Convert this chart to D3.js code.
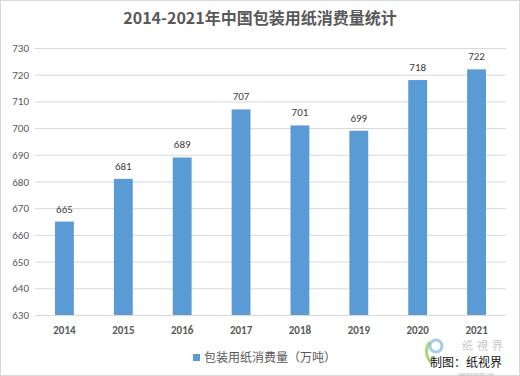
<!DOCTYPE html>
<html><head><meta charset="utf-8">
<script src="https://cdn.jsdelivr.net/npm/d3@7/dist/d3.min.js"></script>
<style>body{margin:0;background:#fff}svg{display:block}</style>
</head><body>
<script>
const years = ["2014","2015","2016","2017","2018","2019","2020","2021"];
const values = [665,681,689,707,701,699,718,722];
const yTicks = [630,640,650,660,670,680,690,700,710,720,730];
const title = "2014-2021年中国包装用纸消费量统计";
const legendLabel = "包装用纸消费量（万吨）";

const W=520,H=376;
const svg=d3.select("body").append("svg").attr("width",W).attr("height",H);
svg.append("rect").attr("x",0.5).attr("y",0.5).attr("width",W-1).attr("height",H-1)
  .attr("fill","#fff").attr("stroke","#d9d9d9");
const font="'Microsoft YaHei','Noto Sans CJK SC',Calibri,'Liberation Sans',sans-serif";
const x=d3.scaleBand().domain(years).range([35,506]).paddingInner(0.68).paddingOuter(0.34);
const y=d3.scaleLinear().domain([630,730]).range([315,48]);

svg.append("g").selectAll("line").data(yTicks).join("line")
  .attr("x1",35).attr("x2",506).attr("y1",d=>y(d)+0.5).attr("y2",d=>y(d)+0.5)
  .attr("stroke","#d9d9d9").attr("stroke-width",1);
svg.append("g").selectAll("text").data(yTicks).join("text")
  .attr("x",29).attr("y",d=>y(d)+4).attr("text-anchor","end")
  .attr("font-family","Calibri,'Liberation Sans',sans-serif").attr("font-size",11).attr("fill","#595959")
  .text(d=>d);

svg.append("g").selectAll("rect").data(values).join("rect")
  .attr("x",(d,i)=>x(years[i])).attr("width",x.bandwidth())
  .attr("y",d=>y(d)).attr("height",d=>y(630)-y(d)).attr("fill","#5B9BD5");
svg.append("g").selectAll("text").data(values).join("text")
  .attr("x",(d,i)=>x(years[i])+x.bandwidth()/2).attr("y",d=>y(d)-9)
  .attr("text-anchor","middle").attr("font-family","Calibri,'Liberation Sans',sans-serif")
  .attr("font-size",11).attr("fill","#404040").text(d=>d);
svg.append("g").selectAll("text").data(years).join("text")
  .attr("x",d=>x(d)+x.bandwidth()/2).attr("y",334).attr("text-anchor","middle")
  .attr("font-family","Calibri,'Liberation Sans',sans-serif").attr("font-size",11).attr("fill","#595959")
  .attr("font-weight","bold").text(d=>d);

svg.append("text").attr("x",260).attr("y",24).attr("text-anchor","middle")
  .attr("font-family",font).attr("font-size",16).attr("font-weight","bold").attr("fill","#595959").text(title);

svg.append("rect").attr("x",193).attr("y",354).attr("width",7).attr("height",7).attr("fill","#5B9BD5");
svg.append("text").attr("x",204).attr("y",362).attr("font-family",font).attr("font-size",12)
  .attr("fill","#595959").text(legendLabel);

// watermark
svg.append("path").attr("d","M430,342 q-8,10 2,22").attr("fill","none").attr("stroke","#8cc63f").attr("stroke-width",3).attr("opacity",0.7);
svg.append("circle").attr("cx",436).attr("cy",346).attr("r",6).attr("fill","none").attr("stroke","#7fb8e0").attr("stroke-width",3).attr("opacity",0.7);
svg.append("text").attr("x",462).attr("y",350).attr("font-family",font).attr("font-size",11)
  .attr("fill","#bbb").attr("opacity",0.8).attr("letter-spacing",4).text("纸視界");
svg.append("text").attr("x",430).attr("y",367).attr("font-family",font).attr("font-size",12)
  .attr("fill","#111").text("制图：纸视界");
svg.append("text").attr("x",458).attr("y",375.5).attr("font-family","'Liberation Sans',sans-serif").attr("font-size",5)
  .attr("fill","#bbb").text("paperinsight.net");
</script>
</body></html>
